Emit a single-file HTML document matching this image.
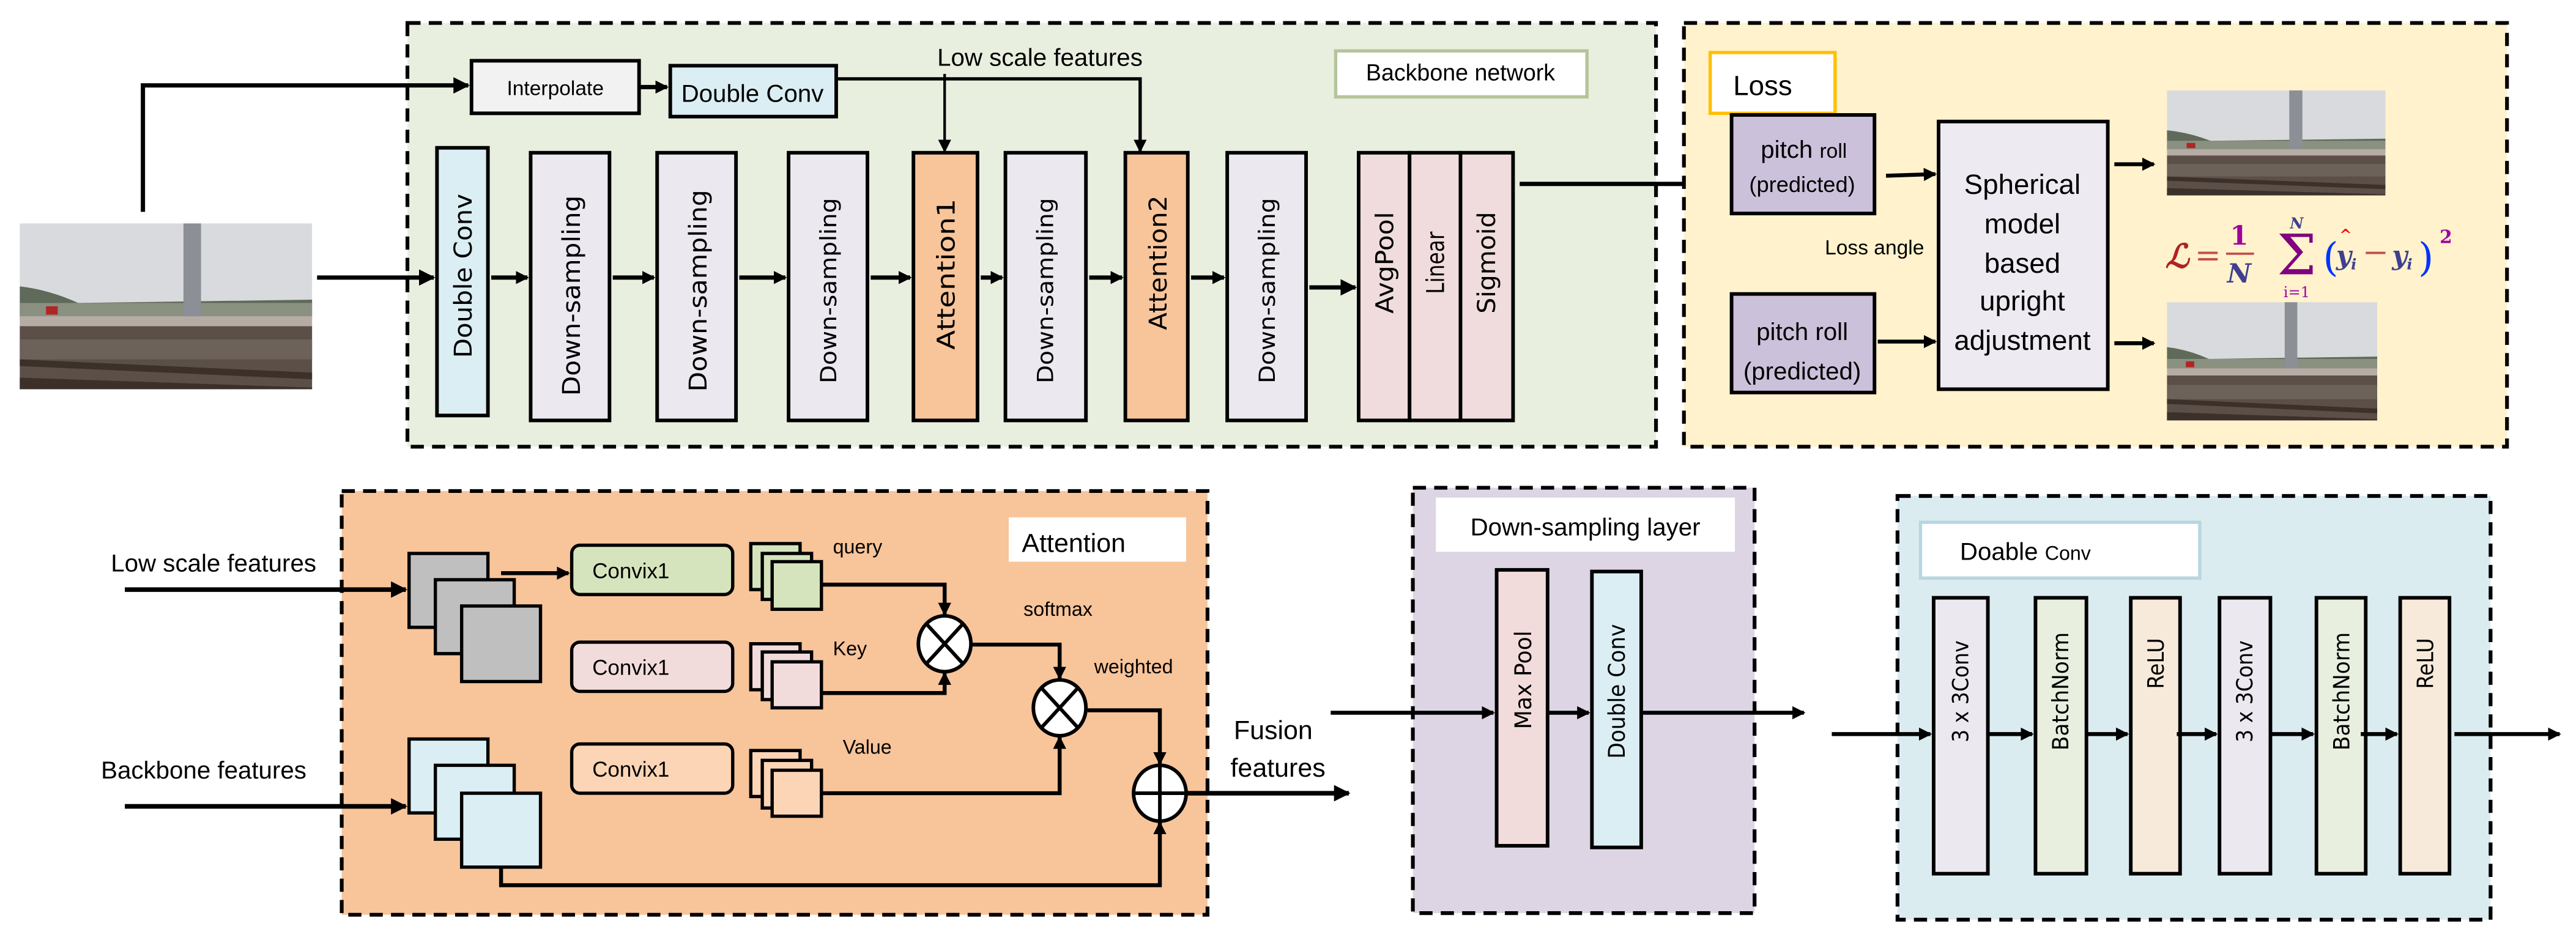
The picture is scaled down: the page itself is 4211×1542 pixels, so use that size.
<!DOCTYPE html>
<html><head><meta charset="utf-8"><style>html,body{margin:0;padding:0;background:#fff}svg{display:block}</style></head>
<body>
<svg xmlns="http://www.w3.org/2000/svg" width="4211" height="1542" viewBox="0 0 1568 574.2" preserveAspectRatio="none" font-family="Liberation Sans, DejaVu Sans, sans-serif">
<defs>
<marker id="a" markerUnits="userSpaceOnUse" markerWidth="10" markerHeight="10" refX="9" refY="5" orient="auto"><path d="M0,0 L10,5 L0,10 z" fill="#000"/></marker>
<marker id="s" markerUnits="userSpaceOnUse" markerWidth="8" markerHeight="8" refX="7" refY="4" orient="auto"><path d="M0,0 L8,4 L0,8 z" fill="#000"/></marker>
<g id="photo">
<rect x="0" y="0" width="100" height="100" fill="#d9dadd"/>
<path d="M0,38 Q10,40 20,48 L100,46 L100,56 L0,56 z" fill="#5f6a5a"/>
<rect x="0" y="48" width="100" height="10" fill="#8a9180"/>
<rect x="0" y="56" width="100" height="6" fill="#b5aca6"/>
<rect x="0" y="62" width="100" height="38" fill="#5b4f48"/>
<rect x="0" y="70" width="100" height="12" fill="#6d6259"/>
<path d="M0,82 L100,90 L100,94 L0,86 z" fill="#3c302b"/>
<path d="M0,93 L100,99 L100,100 L0,100 z" fill="#3c302b"/>
<rect x="56" y="0" width="6" height="56" fill="#8c8f95"/>
<rect x="9" y="50" width="4" height="5" fill="#b02525"/>
</g>
</defs>

<!-- Backbone -->
<rect x="248" y="14" width="760" height="258" fill="#e9efdf" stroke="#000" stroke-width="2.3" stroke-dasharray="8,5"/>
<rect x="287" y="37" width="102" height="32" fill="#f2f2f2" stroke="#000" stroke-width="2.2"/>
<text x="338" y="58" font-size="12.5" text-anchor="middle">Interpolate</text>
<rect x="408" y="40" width="101" height="31" fill="#dbeef3" stroke="#000" stroke-width="2.2"/>
<text x="458" y="62" font-size="15" text-anchor="middle">Double Conv</text>
<text x="633" y="40" font-size="15" text-anchor="middle">Low scale features</text>
<rect x="813" y="31" width="153" height="28" fill="#fff" stroke="#b5c49a" stroke-width="2"/>
<text x="889" y="49" font-size="14" text-anchor="middle">Backbone network</text>

<g stroke="#000" stroke-width="2.2">
<rect x="266" y="90" width="31" height="163" fill="#dbeef3"/>
<rect x="323" y="93" width="48" height="163" fill="#ebe8f0"/>
<rect x="400" y="93" width="48" height="163" fill="#ebe8f0"/>
<rect x="480" y="93" width="48" height="163" fill="#ebe8f0"/>
<rect x="556" y="93" width="39" height="163" fill="#f8c49a"/>
<rect x="612" y="93" width="49" height="163" fill="#ebe8f0"/>
<rect x="685" y="93" width="38" height="163" fill="#f8c49a"/>
<rect x="747" y="93" width="48" height="163" fill="#ebe8f0"/>
<rect x="827" y="93" width="31" height="163" fill="#f0dcdc"/>
<rect x="858" y="93" width="31" height="163" fill="#f0dcdc"/>
<rect x="889" y="93" width="32" height="163" fill="#f0dcdc"/>
</g>
<g font-family="DejaVu Sans, sans-serif" font-size="15" text-anchor="middle">
<text transform="translate(287,168) rotate(-90)" textLength="100" lengthAdjust="spacingAndGlyphs">Double Conv</text>
<text transform="translate(353,180) rotate(-90)" textLength="122" lengthAdjust="spacingAndGlyphs">Down-sampling</text>
<text transform="translate(430,177) rotate(-90)" textLength="123" lengthAdjust="spacingAndGlyphs">Down-sampling</text>
<text transform="translate(509,177) rotate(-90)" textLength="113" lengthAdjust="spacingAndGlyphs" font-size="13.5">Down-sampling</text>
<text transform="translate(581,167) rotate(-90)" textLength="92" lengthAdjust="spacingAndGlyphs">Attention1</text>
<text transform="translate(641,177) rotate(-90)" textLength="113" lengthAdjust="spacingAndGlyphs" font-size="13.5">Down-sampling</text>
<text transform="translate(710,160) rotate(-90)" textLength="82" lengthAdjust="spacingAndGlyphs">Attention2</text>
<text transform="translate(776,177) rotate(-90)" textLength="113" lengthAdjust="spacingAndGlyphs" font-size="13.5">Down-sampling</text>
<text transform="translate(848,160) rotate(-90)" textLength="62" lengthAdjust="spacingAndGlyphs">AvgPool</text>
<text transform="translate(879,160) rotate(-90)" textLength="38" lengthAdjust="spacingAndGlyphs">Linear</text>
<text transform="translate(910,160) rotate(-90)" textLength="62" lengthAdjust="spacingAndGlyphs">Sigmoid</text>
</g>

<svg x="12" y="136" width="178" height="101" viewBox="0 0 100 100" preserveAspectRatio="none"><use href="#photo"/></svg>

<g stroke="#000" stroke-width="2.6" fill="none">
<path d="M87 129 V52 H285" marker-end="url(#a)"/>
<path d="M389 53 H406" marker-end="url(#s)"/>
<path d="M509 48 H694 V92" stroke-width="2" marker-end="url(#s)"/>
<path d="M575 45 V92" stroke-width="1.6" marker-end="url(#s)"/>
<path d="M193 169 H264" marker-end="url(#a)"/>
<path d="M299 169 H321" marker-end="url(#s)"/>
<path d="M373 169 H398" marker-end="url(#s)"/>
<path d="M450 169 H478" marker-end="url(#s)"/>
<path d="M530 169 H554" marker-end="url(#s)"/>
<path d="M597 169 H610" marker-end="url(#s)"/>
<path d="M663 169 H683" marker-end="url(#s)"/>
<path d="M725 169 H745" marker-end="url(#s)"/>
<path d="M797 175 H825" marker-end="url(#a)"/>
<path d="M925 112 H1052" marker-end="url(#a)"/>
</g>

<!-- Loss -->
<rect x="1025" y="14" width="501" height="258" fill="#fff2cc" stroke="#000" stroke-width="2.3" stroke-dasharray="8,5"/>
<rect x="1041" y="32" width="76" height="37" fill="#fff" stroke="#ffc000" stroke-width="2"/>
<text x="1055" y="58" font-size="17">Loss</text>
<rect x="1054" y="70" width="87" height="60" fill="#ccc1da" stroke="#000" stroke-width="2.2"/>
<text x="1098" y="96" font-size="15" text-anchor="middle">pitch <tspan font-size="12.5">roll</tspan></text>
<text x="1097" y="117" font-size="13.5" text-anchor="middle">(predicted)</text>
<rect x="1054" y="179" width="87" height="60" fill="#ccc1da" stroke="#000" stroke-width="2.2"/>
<text x="1097" y="207" font-size="15" text-anchor="middle">pitch roll</text>
<text x="1097" y="231" font-size="15" text-anchor="middle">(predicted)</text>
<rect x="1180" y="74" width="103" height="163" fill="#edeaf1" stroke="#000" stroke-width="2.2"/>
<g font-size="17" text-anchor="middle">
<text x="1231" y="118">Spherical</text>
<text x="1231" y="142">model</text>
<text x="1231" y="166">based</text>
<text x="1231" y="189">upright</text>
<text x="1231" y="213">adjustment</text>
</g>
<text x="1141" y="155" font-size="12.5" text-anchor="middle">Loss angle</text>
<g stroke="#000" stroke-width="2.4" fill="none">
<path d="M1148 107 L1178 106" marker-end="url(#s)"/>
<path d="M1143 208 H1178" marker-end="url(#s)"/>
<path d="M1287 100 H1311" marker-end="url(#s)"/>
<path d="M1287 209 H1311" marker-end="url(#s)"/>
</g>
<svg x="1319" y="55" width="133" height="64" viewBox="0 0 100 100" preserveAspectRatio="none"><use href="#photo"/></svg>
<svg x="1319" y="184" width="128" height="72" viewBox="0 0 100 100" preserveAspectRatio="none"><use href="#photo"/></svg>
<g font-family="DejaVu Serif, Liberation Serif, serif" font-weight="bold">
<text x="1318" y="163" font-size="20" fill="#b22222" font-style="italic">ℒ</text>
<text x="1336" y="162" font-size="19" fill="#c0504d" font-weight="normal">=</text>
<text x="1363" y="149" font-size="16" fill="#a000a0" text-anchor="middle">1</text>
<line x1="1355" y1="154.5" x2="1372" y2="154.5" stroke="#c0504d" stroke-width="1.4"/>
<text x="1363" y="172" font-size="16" fill="#3f3f8f" font-style="italic" text-anchor="middle">N</text>
<text x="1398" y="167" font-size="34" fill="#800080" text-anchor="middle" font-weight="normal">Σ</text>
<text x="1398" y="139" font-size="9" fill="#3f3f8f" font-style="italic" text-anchor="middle">N</text>
<text x="1398" y="181" font-size="9" fill="#a000a0" text-anchor="middle" font-weight="normal">i=1</text>
<text x="1414" y="165" font-size="24" fill="#0033ff" font-weight="normal">(</text>
<text x="1422" y="161" font-size="16" fill="#3f3f8f" font-style="italic">y</text>
<text x="1424" y="146" font-size="9" fill="#ff0000">^</text>
<text x="1431" y="164" font-size="9" fill="#3f3f8f" font-style="italic">i</text>
<line x1="1440" y1="154" x2="1452" y2="154" stroke="#c0504d" stroke-width="1.4"/>
<text x="1456" y="161" font-size="16" fill="#3f3f8f" font-style="italic">y</text>
<text x="1465" y="164" font-size="9" fill="#3f3f8f" font-style="italic">i</text>
<text x="1472" y="165" font-size="24" fill="#0033ff" font-weight="normal">)</text>
<text x="1485" y="148" font-size="11" fill="#a000a0">2</text>
</g>

<!-- Attention -->
<rect x="208" y="299" width="527" height="258" fill="#f8c49a" stroke="#000" stroke-width="2.3" stroke-dasharray="8,5"/>
<rect x="614" y="315" width="108" height="27" fill="#fff"/>
<text x="622" y="336" font-size="16">Attention</text>
<text x="130" y="348" font-size="15" text-anchor="middle">Low scale features</text>
<text x="124" y="474" font-size="15" text-anchor="middle">Backbone features</text>
<g stroke="#000" stroke-width="2">
<rect x="249" y="337" width="48" height="45" fill="#bfbfbf"/>
<rect x="265" y="353" width="48" height="45" fill="#bfbfbf"/>
<rect x="281" y="369" width="48" height="46" fill="#bfbfbf"/>
<rect x="249" y="450" width="48" height="45" fill="#dbeef3"/>
<rect x="265" y="466" width="48" height="45" fill="#dbeef3"/>
<rect x="281" y="483" width="48" height="45" fill="#dbeef3"/>
<rect x="348" y="332" width="98" height="30" rx="5" fill="#d6e4bd"/>
<rect x="348" y="391" width="98" height="30" rx="5" fill="#f2dcdb"/>
<rect x="348" y="453" width="98" height="30" rx="5" fill="#fbd5b5"/>
<rect x="457" y="331" width="30" height="28" fill="#d6e4bd"/>
<rect x="464" y="337" width="30" height="28" fill="#d6e4bd"/>
<rect x="470" y="342" width="30" height="29" fill="#d6e4bd"/>
<rect x="457" y="392" width="30" height="28" fill="#f2dcdb"/>
<rect x="464" y="397" width="30" height="29" fill="#f2dcdb"/>
<rect x="470" y="403" width="30" height="28" fill="#f2dcdb"/>
<rect x="457" y="457" width="30" height="28" fill="#fbd5b5"/>
<rect x="464" y="463" width="30" height="29" fill="#fbd5b5"/>
<rect x="470" y="469" width="30" height="28" fill="#fbd5b5"/>
</g>
<g font-size="13" text-anchor="middle">
<text x="384" y="352">Convix1</text>
<text x="384" y="411">Convix1</text>
<text x="384" y="473">Convix1</text>
</g>
<g font-size="12">
<text x="507" y="337">query</text>
<text x="507" y="399">Key</text>
<text x="513" y="459">Value</text>
<text x="623" y="375">softmax</text>
<text x="666" y="410">weighted</text>
<text x="751" y="450" font-size="16">Fusion</text>
<text x="749" y="473" font-size="16">features</text>
</g>
<g stroke="#000" stroke-width="2.4" fill="none">
<path d="M76 359 H247" stroke-width="2.8" marker-end="url(#a)"/>
<path d="M76 491 H247" stroke-width="2.8" marker-end="url(#a)"/>
<path d="M305 349 H346" marker-end="url(#s)"/>
<path d="M500 356 H575 V374" marker-end="url(#s)"/>
<path d="M500 422 H575 V410" marker-end="url(#s)"/>
<path d="M592 392.5 H645 V413" marker-end="url(#s)"/>
<path d="M500 483 H645 V449" marker-end="url(#s)"/>
<path d="M662 432.5 H706 V465" marker-end="url(#s)"/>
<path d="M305 528 V539 H706 V501" marker-end="url(#s)"/>
<path d="M723 483 H821" stroke-width="2.8" marker-end="url(#a)"/>
</g>
<g stroke="#000" stroke-width="2.2" fill="#fff">
<ellipse cx="575" cy="392" rx="16" ry="17"/>
<path d="M564 380 L586 404 M586 380 L564 404" fill="none"/>
<ellipse cx="645" cy="431" rx="16" ry="17"/>
<path d="M634 419 L656 443 M656 419 L634 443" fill="none"/>
<ellipse cx="706" cy="483" rx="16" ry="17"/>
<path d="M706 466 V500 M690 483 H722" fill="none"/>
</g>

<!-- Down-sampling layer -->
<rect x="860" y="297" width="208" height="259" fill="#ddd5e4" stroke="#000" stroke-width="2.3" stroke-dasharray="8,5"/>
<rect x="874" y="303" width="182" height="33" fill="#fff"/>
<text x="965" y="326" font-size="15" text-anchor="middle">Down-sampling layer</text>
<rect x="911" y="347" width="31" height="168" fill="#f2dcdb" stroke="#000" stroke-width="2.2"/>
<rect x="969" y="348" width="30" height="168" fill="#dbeef3" stroke="#000" stroke-width="2.2"/>
<g font-family="DejaVu Sans, sans-serif" font-size="14" text-anchor="middle">
<text transform="translate(932,414) rotate(-90)" textLength="60" lengthAdjust="spacingAndGlyphs">Max Pool</text>
<text transform="translate(989,421) rotate(-90)" textLength="82" lengthAdjust="spacingAndGlyphs">Double Conv</text>
</g>
<g stroke="#000" stroke-width="2.4" fill="none">
<path d="M810 434 H909" marker-end="url(#s)"/>
<path d="M942 434 H967" marker-end="url(#s)"/>
<path d="M999 434 H1098" marker-end="url(#s)"/>
</g>

<!-- Doable Conv -->
<rect x="1155" y="302" width="361" height="258" fill="#dbecf1" stroke="#000" stroke-width="2.3" stroke-dasharray="8,5"/>
<rect x="1169" y="318" width="170" height="34" fill="#fff" stroke="#b7d7e0" stroke-width="2"/>
<text x="1193" y="341" font-size="15">Doable <tspan font-size="12">Conv</tspan></text>
<g stroke="#000" stroke-width="2.2">
<rect x="1177" y="364" width="33" height="168" fill="#ebe8f0"/>
<rect x="1239" y="364" width="31" height="168" fill="#e8efdf"/>
<rect x="1297" y="364" width="30" height="168" fill="#f8eadb"/>
<rect x="1351" y="364" width="31" height="168" fill="#ebe8f0"/>
<rect x="1410" y="364" width="30" height="168" fill="#e8efdf"/>
<rect x="1461" y="364" width="30" height="168" fill="#f8eadb"/>
</g>
<g font-family="DejaVu Sans, sans-serif" font-size="13.5" text-anchor="middle">
<text transform="translate(1198,421) rotate(-90)" textLength="62" lengthAdjust="spacingAndGlyphs">3 x 3Conv</text>
<text transform="translate(1259,421) rotate(-90)" textLength="72" lengthAdjust="spacingAndGlyphs">BatchNorm</text>
<text transform="translate(1317,404) rotate(-90)" textLength="31" lengthAdjust="spacingAndGlyphs">ReLU</text>
<text transform="translate(1371,421) rotate(-90)" textLength="62" lengthAdjust="spacingAndGlyphs">3 x 3Conv</text>
<text transform="translate(1430,421) rotate(-90)" textLength="72" lengthAdjust="spacingAndGlyphs">BatchNorm</text>
<text transform="translate(1481,404) rotate(-90)" textLength="31" lengthAdjust="spacingAndGlyphs">ReLU</text>
</g>
<g stroke="#000" stroke-width="2.4" fill="none">
<path d="M1115 447 H1175" marker-end="url(#s)"/>
<path d="M1210 447 H1237" marker-end="url(#s)"/>
<path d="M1270 447 H1295" marker-end="url(#s)"/>
<path d="M1325 447 H1349" marker-end="url(#s)"/>
<path d="M1382 447 H1408" marker-end="url(#s)"/>
<path d="M1437 447 H1459" marker-end="url(#s)"/>
<path d="M1494 447 H1558" marker-end="url(#s)"/>
</g>
</svg>
</body></html>
